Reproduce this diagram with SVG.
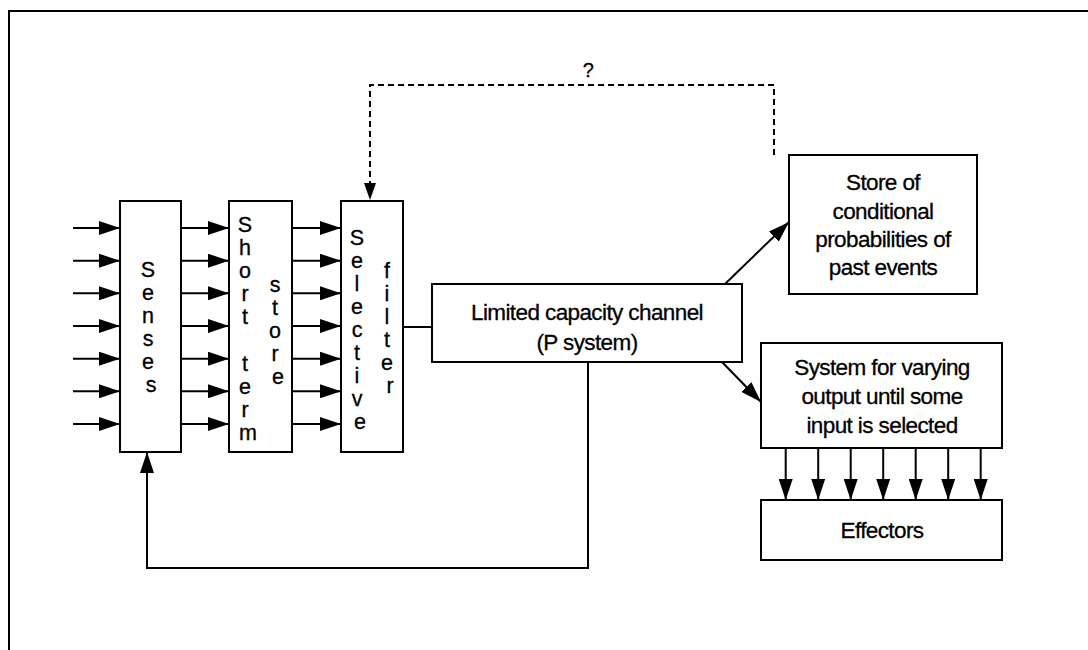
<svg xmlns="http://www.w3.org/2000/svg" width="1088" height="650" viewBox="0 0 1088 650">
  <style>
    .box { fill: #fff; stroke: #000; stroke-width: 2; }
    .line { fill: none; stroke: #000; stroke-width: 2; }
    .dash { fill: none; stroke: #000; stroke-width: 2; stroke-dasharray: 6 4; }
    .lbl { font-family: "Liberation Sans", Arial, sans-serif; font-size: 22.5px; letter-spacing: -0.6px; fill: #000; stroke: #000; stroke-width: 0.3; text-anchor: middle; }
    .vert { font-family: "Liberation Sans", Arial, sans-serif; font-size: 21.5px; fill: #000; stroke: #000; stroke-width: 0.3; text-anchor: middle; }
  </style>
  <defs>
    <marker id="arrow" markerUnits="userSpaceOnUse" markerWidth="22" markerHeight="14" refX="21" refY="7" orient="auto">
      <path d="M0,0 L21,7 L0,14 z" fill="#000"/>
    </marker>
    <marker id="arrowSmall" markerUnits="userSpaceOnUse" markerWidth="18" markerHeight="12" refX="17" refY="6" orient="auto">
      <path d="M0,0 L17,6 L0,12 z" fill="#000"/>
    </marker>
  </defs>

  <rect width="1088" height="650" fill="#fff"/>

  <!-- page frame (top and left edges) -->
  <g id="frame">
    <line x1="8" y1="11" x2="1088" y2="11" stroke="#000" stroke-width="2"/>
    <line x1="9" y1="10" x2="9" y2="650" stroke="#000" stroke-width="2"/>
  </g>

  <!-- connectors -->
  <g id="connectors">
    <!-- incoming stimuli into the senses -->
    <line class="line" x1="73" y1="228" x2="120" y2="228" marker-end="url(#arrow)"/>
    <line class="line" x1="73" y1="260.7" x2="120" y2="260.7" marker-end="url(#arrow)"/>
    <line class="line" x1="73" y1="293.3" x2="120" y2="293.3" marker-end="url(#arrow)"/>
    <line class="line" x1="73" y1="326" x2="120" y2="326" marker-end="url(#arrow)"/>
    <line class="line" x1="73" y1="358.7" x2="120" y2="358.7" marker-end="url(#arrow)"/>
    <line class="line" x1="73" y1="391.3" x2="120" y2="391.3" marker-end="url(#arrow)"/>
    <line class="line" x1="73" y1="424" x2="120" y2="424" marker-end="url(#arrow)"/>
    <!-- senses to short term store -->
    <line class="line" x1="181" y1="228" x2="229" y2="228" marker-end="url(#arrow)"/>
    <line class="line" x1="181" y1="260.7" x2="229" y2="260.7" marker-end="url(#arrow)"/>
    <line class="line" x1="181" y1="293.3" x2="229" y2="293.3" marker-end="url(#arrow)"/>
    <line class="line" x1="181" y1="326" x2="229" y2="326" marker-end="url(#arrow)"/>
    <line class="line" x1="181" y1="358.7" x2="229" y2="358.7" marker-end="url(#arrow)"/>
    <line class="line" x1="181" y1="391.3" x2="229" y2="391.3" marker-end="url(#arrow)"/>
    <line class="line" x1="181" y1="424" x2="229" y2="424" marker-end="url(#arrow)"/>
    <!-- short term store to selective filter -->
    <line class="line" x1="292" y1="228" x2="341" y2="228" marker-end="url(#arrow)"/>
    <line class="line" x1="292" y1="260.7" x2="341" y2="260.7" marker-end="url(#arrow)"/>
    <line class="line" x1="292" y1="293.3" x2="341" y2="293.3" marker-end="url(#arrow)"/>
    <line class="line" x1="292" y1="326" x2="341" y2="326" marker-end="url(#arrow)"/>
    <line class="line" x1="292" y1="358.7" x2="341" y2="358.7" marker-end="url(#arrow)"/>
    <line class="line" x1="292" y1="391.3" x2="341" y2="391.3" marker-end="url(#arrow)"/>
    <line class="line" x1="292" y1="424" x2="341" y2="424" marker-end="url(#arrow)"/>
    <!-- selective filter to limited capacity channel -->
    <line class="line" x1="403" y1="327" x2="432" y2="327"/>
    <!-- channel to store of conditional probabilities -->
    <line class="line" x1="725" y1="284" x2="789" y2="222" marker-end="url(#arrow)"/>
    <!-- channel to output system -->
    <line class="line" x1="722" y1="362" x2="761" y2="402" marker-end="url(#arrow)"/>
    <!-- output system to effectors -->
    <line class="line" x1="785.7" y1="448" x2="785.7" y2="500" marker-end="url(#arrow)"/>
    <line class="line" x1="818.2" y1="448" x2="818.2" y2="500" marker-end="url(#arrow)"/>
    <line class="line" x1="850.7" y1="448" x2="850.7" y2="500" marker-end="url(#arrow)"/>
    <line class="line" x1="883.2" y1="448" x2="883.2" y2="500" marker-end="url(#arrow)"/>
    <line class="line" x1="915.7" y1="448" x2="915.7" y2="500" marker-end="url(#arrow)"/>
    <line class="line" x1="948.2" y1="448" x2="948.2" y2="500" marker-end="url(#arrow)"/>
    <line class="line" x1="980.7" y1="448" x2="980.7" y2="500" marker-end="url(#arrow)"/>
    <!-- feedback from channel back to the senses -->
    <path class="line" d="M588,362 V568 H147 V452" marker-end="url(#arrow)"/>
    <!-- uncertain link from the store back to the filter -->
    <path class="dash" d="M774,155 V85 H370 V200" marker-end="url(#arrowSmall)"/>
    <text class="lbl" x="588" y="77" style="font-size:20px">?</text>
  </g>

  <g id="senses">
    <rect class="box" x="120" y="201" width="61" height="251"/>
    <text class="vert">
      <tspan x="151" y="277">S</tspan>
      <tspan x="151" y="300">e</tspan>
      <tspan x="151" y="323">n</tspan>
      <tspan x="151" y="346">s</tspan>
      <tspan x="151" y="369">e</tspan>
      <tspan x="151" y="392">s</tspan>
    </text>
  </g>

  <g id="short-term-store">
    <rect class="box" x="229" y="201" width="63" height="251"/>
    <text class="vert">
      <tspan x="248" y="232">S</tspan>
      <tspan x="248" y="255">h</tspan>
      <tspan x="248" y="278">o</tspan>
      <tspan x="248" y="301">r</tspan>
      <tspan x="248" y="324">t</tspan>
      <tspan x="248" y="371">t</tspan>
      <tspan x="248" y="394">e</tspan>
      <tspan x="248" y="417">r</tspan>
      <tspan x="248" y="440">m</tspan>
    </text>
    <text class="vert">
      <tspan x="278" y="292">s</tspan>
      <tspan x="278" y="315">t</tspan>
      <tspan x="278" y="338">o</tspan>
      <tspan x="278" y="361">r</tspan>
      <tspan x="278" y="384">e</tspan>
    </text>
  </g>

  <g id="selective-filter">
    <rect class="box" x="341" y="201" width="62" height="251"/>
    <text class="vert">
      <tspan x="360" y="245">S</tspan>
      <tspan x="360" y="268">e</tspan>
      <tspan x="360" y="291">l</tspan>
      <tspan x="360" y="314">e</tspan>
      <tspan x="360" y="337">c</tspan>
      <tspan x="360" y="360">t</tspan>
      <tspan x="360" y="383">i</tspan>
      <tspan x="360" y="406">v</tspan>
      <tspan x="360" y="429">e</tspan>
    </text>
    <text class="vert">
      <tspan x="390" y="278">f</tspan>
      <tspan x="390" y="301">i</tspan>
      <tspan x="390" y="324">l</tspan>
      <tspan x="390" y="347">t</tspan>
      <tspan x="390" y="370">e</tspan>
      <tspan x="390" y="393">r</tspan>
    </text>
  </g>

  <g id="limited-capacity-channel">
    <rect class="box" x="432" y="284" width="310" height="78"/>
    <text class="lbl" x="587" y="320">Limited capacity channel</text>
    <text class="lbl" x="587" y="350">(P system)</text>
  </g>

  <g id="store-of-probabilities">
    <rect class="box" x="789" y="155" width="188" height="139"/>
    <text class="lbl" x="883" y="190">Store of</text>
    <text class="lbl" x="883" y="219">conditional</text>
    <text class="lbl" x="883" y="247">probabilities of</text>
    <text class="lbl" x="883" y="275">past events</text>
  </g>

  <g id="output-system">
    <rect class="box" x="761" y="343" width="241" height="105"/>
    <text class="lbl" x="882" y="375">System for varying</text>
    <text class="lbl" x="882" y="404">output until some</text>
    <text class="lbl" x="882" y="433">input is selected</text>
  </g>

  <g id="effectors">
    <rect class="box" x="761" y="500" width="241" height="60"/>
    <text class="lbl" x="882" y="538">Effectors</text>
  </g>
</svg>
